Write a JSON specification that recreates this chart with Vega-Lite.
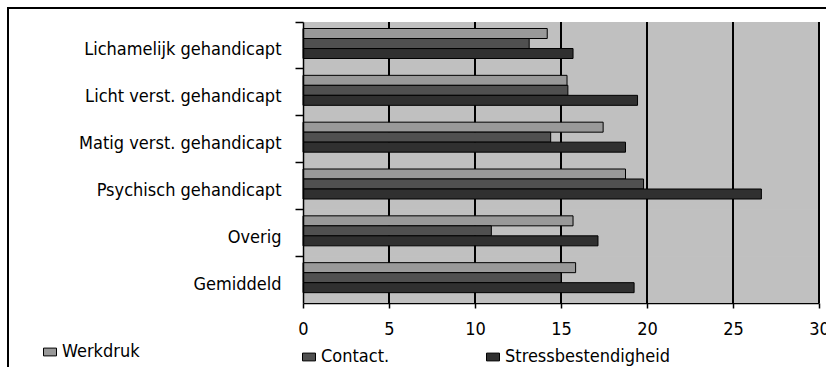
{
  "$schema": "https://vega.github.io/schema/vega-lite/v6.json",
  "width": 830,
  "height": 370,
  "autosize": {"type": "none"},
  "padding": {"left": 8, "top": 8, "right": 0, "bottom": 0},
  "background": "white",
  "config": {
    "view": {"stroke": "black", "strokeWidth": 2, "fill": "white"},
    "font": "DejaVu Sans Condensed, sans-serif",
    "tick": {"size": 47, "thickness": 2, "color": "black", "opacity": 1},
    "legend": {
      "orient": "none",
      "title": null,
      "padding": 0,
      "symbolType": "M-1,-0.6H1V0.6H-1Z",
      "symbolSize": 169,
      "symbolStrokeColor": "black",
      "symbolStrokeWidth": 1,
      "labelFontSize": 18,
      "labelColor": "black",
      "labelOffset": 3,
      "labelLimit": 300
    }
  },
  "data": {
    "values": [
      {"groep": "Lichamelijk gehandicapt", "schaal": "Werkdruk", "score": 14.2},
      {"groep": "Lichamelijk gehandicapt", "schaal": "Contact.", "score": 13.15},
      {"groep": "Lichamelijk gehandicapt", "schaal": "Stressbestendigheid", "score": 15.7},
      {"groep": "Licht verst. gehandicapt", "schaal": "Werkdruk", "score": 15.35},
      {"groep": "Licht verst. gehandicapt", "schaal": "Contact.", "score": 15.4},
      {"groep": "Licht verst. gehandicapt", "schaal": "Stressbestendigheid", "score": 19.45},
      {"groep": "Matig verst. gehandicapt", "schaal": "Werkdruk", "score": 17.45},
      {"groep": "Matig verst. gehandicapt", "schaal": "Contact.", "score": 14.4},
      {"groep": "Matig verst. gehandicapt", "schaal": "Stressbestendigheid", "score": 18.75},
      {"groep": "Psychisch gehandicapt", "schaal": "Werkdruk", "score": 18.75},
      {"groep": "Psychisch gehandicapt", "schaal": "Contact.", "score": 19.8},
      {"groep": "Psychisch gehandicapt", "schaal": "Stressbestendigheid", "score": 26.65},
      {"groep": "Overig", "schaal": "Werkdruk", "score": 15.7},
      {"groep": "Overig", "schaal": "Contact.", "score": 10.95},
      {"groep": "Overig", "schaal": "Stressbestendigheid", "score": 17.15},
      {"groep": "Gemiddeld", "schaal": "Werkdruk", "score": 15.85},
      {"groep": "Gemiddeld", "schaal": "Contact.", "score": 15.0},
      {"groep": "Gemiddeld", "schaal": "Stressbestendigheid", "score": 19.25}
    ]
  },
  "encoding": {
    "y": {
      "field": "groep",
      "type": "nominal",
      "scale": {
        "domain": ["Lichamelijk gehandicapt", "Licht verst. gehandicapt", "Matig verst. gehandicapt", "Psychisch gehandicapt", "Overig", "Gemiddeld"],
        "range": [14, 295],
        "paddingInner": 0,
        "paddingOuter": 0
      },
      "axis": {
        "title": null,
        "orient": "left",
        "offset": -295,
        "bandPosition": 0,
        "domainColor": "black",
        "domainWidth": 1.5,
        "tickColor": "black",
        "tickWidth": 1.5,
        "tickSize": 8,
        "labelPadding": 14,
        "labelOffset": 5,
        "labelFontSize": 18,
        "labelColor": "black",
        "labelLimit": 300
      }
    }
  },
  "layer": [
    {
      "mark": {"type": "rect", "fill": "#C0C0C0"},
      "encoding": {
        "x": {
          "datum": 0,
          "type": "quantitative",
          "scale": {"domain": [0, 30], "range": [295, 811], "nice": false, "zero": true},
          "axis": {
            "title": null,
            "orient": "bottom",
            "offset": -75,
            "values": [0, 5, 10, 15, 20, 25, 30],
            "grid": false,
            "domainColor": "black",
            "domainWidth": 1.5,
            "tickColor": "black",
            "tickWidth": 1.5,
            "tickSize": 5,
            "labelPadding": 12,
            "labelFontSize": 18,
            "labelColor": "black",
            "labelFlush": false,
            "labelOverlap": false
          }
        },
        "x2": {"datum": 30}
      }
    },
    {"mark": "tick", "encoding": {"x": {"datum": 5, "axis": null}}},
    {"mark": "tick", "encoding": {"x": {"datum": 10, "axis": null}}},
    {"mark": "tick", "encoding": {"x": {"datum": 15, "axis": null}}},
    {"mark": "tick", "encoding": {"x": {"datum": 20, "axis": null}}},
    {"mark": "tick", "encoding": {"x": {"datum": 25, "axis": null}}},
    {"mark": "tick", "encoding": {"x": {"datum": 30, "axis": null}}},
    {
      "transform": [{"filter": "datum.schaal === 'Werkdruk'"}],
      "mark": {"type": "bar", "stroke": "black", "strokeWidth": 1},
      "encoding": {
        "x": {
          "field": "score",
          "type": "quantitative",
          "axis": {
            "title": null,
            "orient": "top",
            "offset": -14,
            "grid": false,
            "domain": true,
            "domainColor": "#808080",
            "domainWidth": 1,
            "ticks": false,
            "labels": false
          }
        },
        "yOffset": {
          "field": "schaal",
          "type": "nominal",
          "scale": {"domain": ["Werkdruk", "Contact.", "Stressbestendigheid"], "range": [6.5, 36.5], "paddingInner": 0, "paddingOuter": 0}
        },
        "color": {
          "field": "schaal",
          "type": "nominal",
          "scale": {"domain": ["Werkdruk"], "range": ["#999999"]},
          "legend": {"legendX": 33, "legendY": 335}
        }
      }
    },
    {
      "transform": [{"filter": "datum.schaal === 'Contact.'"}],
      "mark": {"type": "bar", "stroke": "black", "strokeWidth": 1},
      "encoding": {
        "x": {"field": "score", "type": "quantitative", "axis": null},
        "yOffset": {"field": "schaal", "type": "nominal"},
        "color": {
          "field": "schaal",
          "type": "nominal",
          "scale": {"domain": ["Contact."], "range": ["#505050"]},
          "legend": {"legendX": 292, "legendY": 340}
        }
      }
    },
    {
      "transform": [{"filter": "datum.schaal === 'Stressbestendigheid'"}],
      "mark": {"type": "bar", "stroke": "black", "strokeWidth": 1},
      "encoding": {
        "x": {"field": "score", "type": "quantitative", "axis": null},
        "yOffset": {"field": "schaal", "type": "nominal"},
        "color": {
          "field": "schaal",
          "type": "nominal",
          "scale": {"domain": ["Stressbestendigheid"], "range": ["#303030"]},
          "legend": {"legendX": 476, "legendY": 340}
        }
      }
    }
  ],
  "resolve": {"scale": {"color": "independent"}, "axis": {"x": "independent"}}
}
